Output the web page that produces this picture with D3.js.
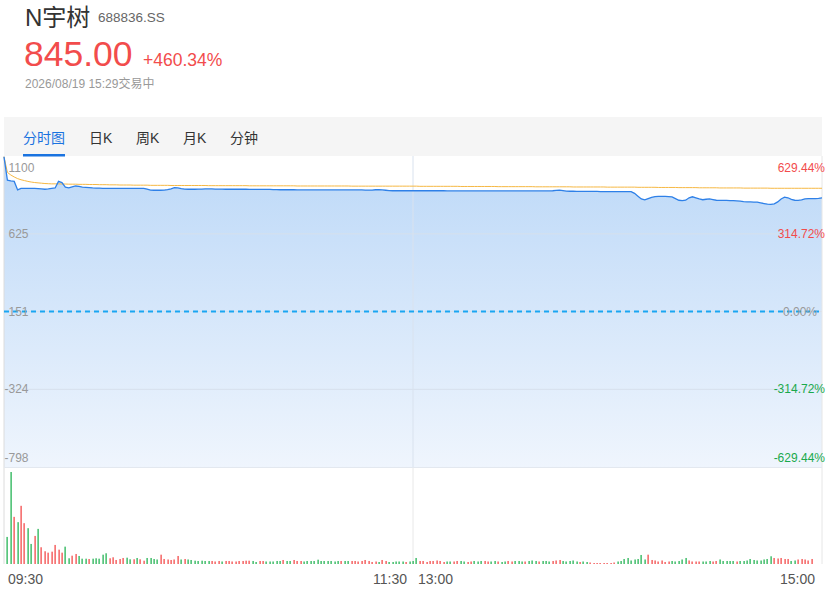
<!DOCTYPE html>
<html><head><meta charset="utf-8">
<script src="https://cdn.jsdelivr.net/npm/d3@7"></script>
<style>
html,body{margin:0;padding:0;background:#fff;}
svg{display:block;font-family:"Liberation Sans",Arial,"Noto Sans CJK SC",sans-serif;}
</style></head><body>
<svg id="c" width="826" height="598"></svg>
<script>
// ---------- data ----------
const stockName = "N宇树";
const stockCode = "688836.SS";
const lastPrice = "845.00";
const changePct = "+460.34%";
const statusText = "2026/08/19 15:29交易中";
const tabs = ["分时图", "日K", "周K", "月K", "分钟"];
const priceTicks = [1100, 625, 151, -324, -798];
const pctTicks = ["629.44%", "314.72%", "0.00%", "-314.72%", "-629.44%"];
const prevClose = 151;
const timeLabels = ["09:30", "11:30", "13:00", "15:00"];

const prices = [
1095,952,948,945,893,902,903,903,902,902,
901,899,897,899,902,905,945,938,910,906,
912,917,914,910,909,907,905,904,904,903,
903,903,903,903,903,903,903,903,903,903,
903,902,898,892,891,891,891,892,895,900,
907,905,901,898,897,897,897,898,898,899,
899,899,898,898,898,897,897,897,897,897,
897,897,896,896,896,896,896,896,896,895,
895,894,894,894,894,894,893,893,893,893,
893,893,893,893,893,893,893,893,893,893,
893,893,893,893,893,893,892,892,892,894,
894,893,891,889,888,888,888,888,888,888,
888,888,888,888,888,888,888,888,888,888,
887,887,887,887,887,887,887,887,887,887,
887,887,887,887,887,887,887,887,887,887,
887,887,887,887,887,887,887,887,887,887,
887,888,890,892,889,886,885,885,884,884,
884,884,884,884,884,883,883,883,883,883,
883,883,883,883,883,872,855,838,832,840,
848,852,853,853,853,852,850,840,830,828,
830,845,851,845,838,833,836,838,834,830,
829,829,829,828,828,826,824,821,820,820,
819,818,814,810,806,805,808,820,838,849,
845,835,830,829,832,838,840,840,840,842,
845];

const avgPrices = [
1095,1000,984,972,962,955,950,945,941,938,
936,934,932,931,930,930,930,929,929,928,
928,928,927,927,927,926,926,926,925,925,
925,924,924,924,923,923,923,923,922,922,
922,922,922,921,921,921,921,921,921,920,
920,920,920,920,920,920,920,920,920,920,
919,919,919,919,919,919,919,919,919,919,
919,919,918,918,918,918,918,918,918,918,
918,918,918,918,918,918,917,917,917,917,
917,917,917,917,917,917,917,917,917,917,
917,917,916,916,916,916,916,916,916,916,
916,916,916,916,916,916,916,916,916,916,
916,916,915,915,915,915,915,915,915,915,
915,915,915,915,914,914,914,914,914,914,
914,914,914,914,914,913,913,913,913,913,
913,913,913,913,913,913,912,912,912,912,
912,912,912,912,912,912,912,911,911,911,
911,911,911,911,911,911,911,910,910,910,
910,910,910,910,910,910,909,909,909,909,
909,909,908,908,908,908,908,908,907,907,
907,907,907,907,906,906,906,906,906,906,
905,905,905,905,905,905,905,904,904,904,
904,904,904,904,904,903,903,903,903,903,
903,903,903,903,903,903,903,903,903,903,
903];

const volumes = [
0,2700,9170,4700,4170,5800,4070,3570,2000,2800,
3500,1670,1270,1130,1230,1900,1430,1130,1730,570,
830,1000,800,530,530,500,530,570,530,930,
1070,570,670,400,500,600,630,470,470,600,
470,330,600,600,500,450,930,500,450,400,
450,800,450,500,450,400,330,300,330,300,
300,300,250,300,250,300,300,250,250,300,
300,330,330,300,200,300,300,250,250,250,
300,300,400,300,300,400,300,300,250,300,
300,300,430,300,300,300,300,250,300,300,
300,300,300,300,250,300,400,300,200,250,
200,400,300,200,200,250,250,250,200,250,
300,600,300,300,200,300,300,350,300,200,
250,250,250,300,300,250,200,250,300,250,
300,300,250,250,300,250,200,250,300,250,
300,300,250,250,300,350,300,250,300,300,
250,300,350,400,300,250,300,350,250,200,
250,200,150,100,100,100,100,100,100,150,
250,300,500,600,350,450,500,900,450,930,
400,350,250,350,200,250,300,250,300,450,
600,350,250,250,250,250,250,300,250,300,
450,300,300,300,300,250,300,300,350,500,
400,350,350,450,500,770,600,550,600,500,
500,300,350,450,500,450,350,500,0,0,
0];

// 1 = up (red), -1 = down (green)
const volDir = [
1,-1,-1,1,-1,1,1,-1,-1,1,
-1,1,1,1,1,1,1,1,-1,-1,
1,1,-1,-1,-1,1,-1,-1,-1,-1,
-1,1,1,1,1,1,-1,-1,1,-1,
1,1,-1,-1,-1,-1,1,1,1,1,
1,1,-1,1,-1,-1,-1,-1,-1,-1,
-1,1,1,1,-1,1,1,1,1,1,
1,1,1,-1,-1,1,1,-1,-1,-1,
-1,-1,1,-1,-1,1,1,1,-1,-1,
-1,-1,-1,-1,-1,-1,-1,-1,-1,1,
-1,-1,1,1,1,1,1,1,1,1,
-1,1,1,-1,-1,-1,-1,-1,1,-1,
-1,-1,1,1,1,1,1,1,1,1,
-1,-1,1,1,-1,-1,1,1,-1,-1,
-1,1,1,-1,-1,1,-1,-1,1,1,
-1,-1,-1,1,-1,-1,-1,1,-1,-1,
-1,1,1,1,-1,-1,-1,-1,-1,1,
-1,-1,1,1,1,1,1,1,1,1,
-1,-1,-1,-1,-1,-1,-1,-1,-1,1,
1,1,1,1,1,1,-1,-1,-1,-1,
-1,1,1,1,1,-1,-1,-1,1,1,
-1,-1,-1,-1,-1,1,-1,-1,-1,-1,
-1,-1,-1,-1,-1,-1,1,1,1,1,
1,-1,-1,1,1,1,1,1,1,1,
1];

// ---------- colours ----------
const RED = "#f24c4c", GREEN = "#1aa94c", VRED = "#f23d3d", VGREEN = "#13ad47";

const svg = d3.select("#c");
const idx = prices.map((d, i) => i);

// layout
const L = 4, R = 822;
const pTop = 156, pBot = 467;
const vTop = 468, vBot = 564;

const x = d3.scalePoint().domain(idx).range([L, R]);
const y = d3.scaleLinear().domain([priceTicks[priceTicks.length - 1], priceTicks[0]]).range([pBot, pTop]);
const yv = d3.scaleLinear().domain([0, d3.max(volumes)]).range([vBot, vTop + 4]);

// ---------- header ----------
svg.append("text").attr("x", 25).attr("y", 26).attr("font-size", 24).attr("fill", "#333").text(stockName);
svg.append("text").attr("x", 98).attr("y", 22).attr("font-size", 13.5).attr("fill", "#666").text(stockCode);
svg.append("text").attr("x", 24).attr("y", 66).attr("font-size", 35.5).attr("fill", RED).text(lastPrice);
svg.append("text").attr("x", 143).attr("y", 66).attr("font-size", 17.5).attr("fill", RED).text(changePct);
svg.append("text").attr("x", 25).attr("y", 87.5).attr("font-size", 12).attr("fill", "#999").text(statusText);

// ---------- tabs ----------
svg.append("rect").attr("x", L).attr("y", 117).attr("width", R - L).attr("height", pTop - 117).attr("fill", "#f5f5f5");
const tabX = [23, 89, 136, 183, 230];
svg.selectAll("text.tab").data(tabs).enter().append("text")
  .attr("class", "tab")
  .attr("x", (d, i) => tabX[i]).attr("y", 137.5)
  .attr("dominant-baseline", "central")
  .attr("font-size", 14)
  .attr("fill", (d, i) => i === 0 ? "#1a73e0" : "#333")
  .text(d => d);
svg.append("rect").attr("x", 23).attr("y", 154).attr("width", 42).attr("height", 2.5).attr("fill", "#1a73e0");

// ---------- price panel ----------
const defs = svg.append("defs");
const grad = defs.append("linearGradient").attr("id", "fillGrad")
  .attr("gradientUnits", "userSpaceOnUse").attr("x1", 0).attr("x2", 0).attr("y1", 185).attr("y2", pBot);
grad.append("stop").attr("offset", 0).attr("stop-color", "#c1dbf8");
grad.append("stop").attr("offset", 1).attr("stop-color", "#eff5fd");

svg.append("path").datum(idx)
  .attr("d", d3.area().x(i => x(i)).y0(pBot).y1(i => y(prices[i])))
  .attr("fill", "url(#fillGrad)");

// grid lines
svg.selectAll("line.hgrid").data(priceTicks.slice(1, -1)).enter().append("line")
  .attr("x1", L).attr("x2", R).attr("y1", d => y(d)).attr("y2", d => y(d))
  .attr("stroke", "#d6e0ec").attr("stroke-width", 1);
svg.append("line").attr("x1", x(120)).attr("x2", x(120)).attr("y1", pTop).attr("y2", pBot)
  .attr("stroke", "#d9e2ee").attr("stroke-width", 1);

// borders
svg.append("line").attr("x1", L).attr("x2", L).attr("y1", pTop).attr("y2", vBot).attr("stroke", "#dcdcdc");
svg.append("line").attr("x1", R).attr("x2", R).attr("y1", pTop).attr("y2", vBot).attr("stroke", "#e6e6e6");
svg.append("line").attr("x1", L).attr("x2", R).attr("y1", pBot + 0.5).attr("y2", pBot + 0.5).attr("stroke", "#e3e8ef");

// baseline (previous close)
svg.append("line").attr("x1", L).attr("x2", R).attr("y1", y(prevClose)).attr("y2", y(prevClose))
  .attr("stroke", "#1aa6f2").attr("stroke-width", 2).attr("stroke-dasharray", "5,4");

// avg line
svg.append("path").datum(idx)
  .attr("d", d3.line().x(i => x(i)).y(i => y(avgPrices[i])))
  .attr("fill", "none").attr("stroke", "#f6b843").attr("stroke-width", 1);

// price line
svg.append("path").datum(idx)
  .attr("d", d3.line().x(i => x(i)).y(i => y(prices[i])))
  .attr("fill", "none").attr("stroke", "#2e80e8").attr("stroke-width", 1.3);

// left price labels
const n = priceTicks.length;
const labY = (d, i) => y(d) + (i === 0 ? 12 : i === n - 1 ? -9 : 0);
svg.selectAll("text.pl").data(priceTicks).enter().append("text")
  .attr("x", d => d < 0 ? 4.5 : 8.5).attr("y", (d, i) => labY(d, i))
  .attr("dominant-baseline", "central").attr("font-size", 12).attr("fill", "#999")
  .text(d => d);
// right pct labels (kept inside the window)
svg.selectAll("text.pr").data(pctTicks).enter().append("text")
  .attr("x", d => d === "0.00%" ? 817 : 825).attr("y", (d, i) => labY(priceTicks[i], i))
  .attr("text-anchor", "end")
  .attr("dominant-baseline", "central").attr("font-size", 12)
  .attr("fill", d => d.startsWith("-") ? GREEN : (parseFloat(d) === 0 ? "#999" : RED))
  .text(d => d);

// ---------- volume panel ----------
svg.append("line").attr("x1", x(120)).attr("x2", x(120)).attr("y1", vTop).attr("y2", vBot)
  .attr("stroke", "#e8e8e8");
svg.selectAll("rect.vol").data(idx.filter(i => volumes[i] > 0)).enter().append("rect")
  .attr("x", i => Math.round(x(i)) - 0.5).attr("width", 1.2)
  .attr("y", i => yv(volumes[i])).attr("height", i => vBot - yv(volumes[i]))
  .attr("fill", i => volDir[i] > 0 ? VRED : VGREEN);

// ---------- time labels ----------
const tIdx = [0, 120, 120, 240];
const tOff = [4, -6, 5, -7];
const tAnchor = ["start", "end", "start", "end"];
svg.selectAll("text.tl").data(timeLabels).enter().append("text")
  .attr("x", (d, i) => x(tIdx[i]) + tOff[i]).attr("y", 584)
  .attr("text-anchor", (d, i) => tAnchor[i])
  .attr("font-size", 14).attr("fill", "#555")
  .text(d => d);
</script>
</body></html>
